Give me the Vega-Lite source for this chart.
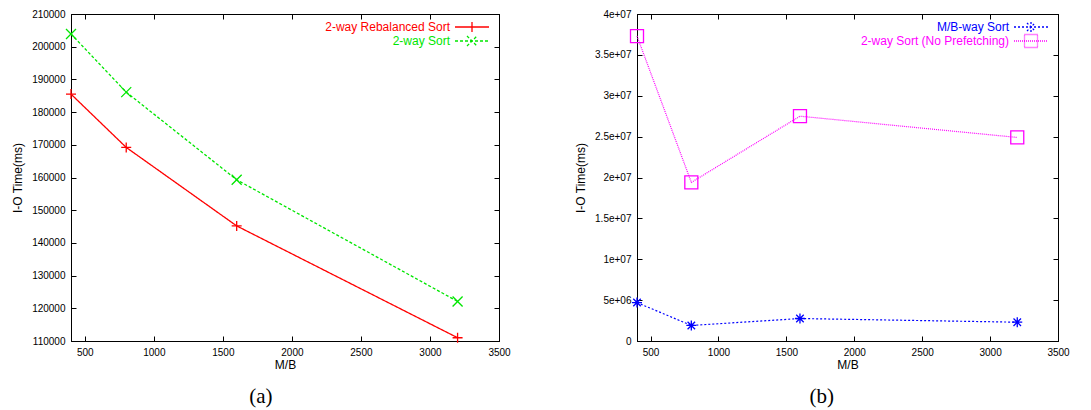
{
  "$schema": "https://vega.github.io/schema/vega-lite/v6.json",
  "background": "white",
  "padding": {"left": 11, "top": 8, "right": 5, "bottom": 0},
  "datasets": {
    "a": [
      {"mb": 400, "t": 185500, "series": "2-way Rebalanced Sort"},
      {"mb": 800, "t": 169200, "series": "2-way Rebalanced Sort"},
      {"mb": 1600, "t": 145200, "series": "2-way Rebalanced Sort"},
      {"mb": 3200, "t": 111000, "series": "2-way Rebalanced Sort"},
      {"mb": 400, "t": 203900, "series": "2-way Sort"},
      {"mb": 800, "t": 186100, "series": "2-way Sort"},
      {"mb": 1600, "t": 159300, "series": "2-way Sort"},
      {"mb": 3200, "t": 122100, "series": "2-way Sort"}
    ],
    "b": [
      {"mb": 400, "t": 4700000, "series": "M/B-way Sort"},
      {"mb": 800, "t": 1900000, "series": "M/B-way Sort"},
      {"mb": 1600, "t": 2750000, "series": "M/B-way Sort"},
      {"mb": 3200, "t": 2300000, "series": "M/B-way Sort"},
      {"mb": 400, "t": 37300000, "series": "2-way Sort (No Prefetching)"},
      {"mb": 800, "t": 19400000, "series": "2-way Sort (No Prefetching)"},
      {"mb": 1600, "t": 27500000, "series": "2-way Sort (No Prefetching)"},
      {"mb": 3200, "t": 24900000, "series": "2-way Sort (No Prefetching)"}
    ]
  },
  "config": {
    "font": "Liberation Sans",
    "view": {"stroke": "black", "strokeWidth": 1},
    "axis": {
      "grid": false,
      "domainColor": "black",
      "tickColor": "black",
      "labelColor": "black",
      "titleColor": "black",
      "labelFont": "Liberation Sans",
      "titleFont": "Liberation Sans",
      "labelFontSize": 10,
      "titleFontSize": 12,
      "titleFontWeight": "normal",
      "tickSize": -5,
      "labelPadding": 11,
      "labelFlush": false,
      "labelOverlap": false
    },
    "legend": {
      "labelFont": "Liberation Sans",
      "labelFontSize": 12,
      "labelLimit": 400
    },
    "title": {"font": "Liberation Serif", "fontSize": 21, "fontWeight": "normal", "color": "black"}
  },
  "bounds": "flush",
  "spacing": 138,
  "resolve": {
    "scale": {"color": "independent", "strokeDash": "independent"},
    "legend": {"color": "independent", "strokeDash": "independent"}
  },
  "hconcat": [
    {
      "width": 428,
      "height": 327,
      "title": {"text": "(a)", "orient": "bottom", "frame": "bounds", "anchor": "middle", "offset": 16},
      "data": {"name": "a"},
      "layer": [
        {
          "mark": {"type": "line", "strokeWidth": 1.3},
          "encoding": {
            "x": {"field": "mb", "type": "quantitative", "scale": {"domain": [400, 3500], "nice": false, "zero": false},
                  "axis": {"title": "M/B", "values": [500, 1000, 1500, 2000, 2500, 3000, 3500], "format": "d", "titlePadding": 2}},
            "y": {"field": "t", "type": "quantitative", "scale": {"domain": [110000, 210000], "nice": false, "zero": false},
                  "axis": {"title": "I-O Time(ms)", "values": [110000,120000,130000,140000,150000,160000,170000,180000,190000,200000,210000], "format": "d", "titlePadding": 7}},
            "color": {"field": "series", "type": "nominal",
                      "scale": {"domain": ["2-way Rebalanced Sort", "2-way Sort"], "range": ["#ff0000", "#00e600"]},
                      "legend": {"title": null, "orient": "top-right", "offset": 7, "padding": 0, "rowPadding": -8,
                                 "symbolSize": 100, "symbolStrokeWidth": 1.3, "symbolFillColor": "transparent",
                                 "labelAlign": "right", "labelOffset": -28,
                                 "encode": {
                                   "labels": {"update": {"fill": {"signal": "datum.value == '2-way Sort' ? '#00e600' : '#ff0000'"}}},
                                   "symbols": {"update": {
                                     "shape": {"signal": "datum.value == '2-way Sort' ? 'M-3.4,0H3.4M-1,-1L1,1M-1,1L1,-1' : 'M-3.4,0H3.4M0,-1V1'"},
                                     "strokeDash": {"signal": "datum.value == '2-way Sort' ? [3,2] : [1,0]"}
                                   }}
                                 }}},
            "strokeDash": {"field": "series", "type": "nominal",
                           "scale": {"domain": ["2-way Rebalanced Sort", "2-way Sort"], "range": [[1, 0], [3, 2]]},
                           "legend": null}
          }
        },
        {
          "transform": [{"filter": "datum.series == '2-way Rebalanced Sort'"}],
          "mark": {"type": "point", "filled": false, "strokeWidth": 1.3, "size": 100, "opacity": 1, "color": "#ff0000", "shape": "M-1,0H1M0,-1V1"},
          "encoding": {
            "x": {"field": "mb", "type": "quantitative", "axis": {"orient": "top", "labels": false, "title": null, "values": [500, 1000, 1500, 2000, 2500, 3000, 3500]}},
            "y": {"field": "t", "type": "quantitative", "axis": {"orient": "right", "labels": false, "title": null, "values": [110000,120000,130000,140000,150000,160000,170000,180000,190000,200000,210000]}}
          }
        },
        {
          "transform": [{"filter": "datum.series == '2-way Sort'"}],
          "mark": {"type": "point", "filled": false, "strokeWidth": 1.3, "size": 100, "opacity": 1, "color": "#00e600", "shape": "M-1,-1L1,1M-1,1L1,-1"},
          "encoding": {
            "x": {"field": "mb", "type": "quantitative", "axis": null},
            "y": {"field": "t", "type": "quantitative", "axis": null}
          }
        }
      ],
      "resolve": {"axis": {"x": "independent", "y": "independent"}}
    },
    {
      "width": 421,
      "height": 327,
      "title": {"text": "(b)", "orient": "bottom", "frame": "bounds", "anchor": "middle", "offset": 16},
      "data": {"name": "b"},
      "layer": [
        {
          "mark": {"type": "line", "strokeWidth": 1.2},
          "encoding": {
            "x": {"field": "mb", "type": "quantitative", "scale": {"domain": [400, 3500], "nice": false, "zero": false},
                  "axis": {"title": "M/B", "values": [500, 1000, 1500, 2000, 2500, 3000, 3500], "format": "d", "titlePadding": 2}},
            "y": {"field": "t", "type": "quantitative", "scale": {"domain": [0, 40000000], "nice": false},
                  "axis": {"title": "I-O Time(ms)", "values": [0,5000000,10000000,15000000,20000000,25000000,30000000,35000000,40000000],
                           "labelExpr": "datum.value == 0 ? '0' : replace(format(datum.value, '.2~e'), 'e+', 'e+0')", "titlePadding": 7}},
            "color": {"field": "series", "type": "nominal",
                      "scale": {"domain": ["M/B-way Sort", "2-way Sort (No Prefetching)"], "range": ["#0000ff", "#ff00ff"]},
                      "legend": {"title": null, "orient": "top-right", "offset": 7, "padding": 0, "rowPadding": -8,
                                 "symbolSize": 100, "symbolStrokeWidth": 1.3, "symbolFillColor": "transparent",
                                 "labelAlign": "right", "labelOffset": -28,
                                 "encode": {
                                   "labels": {"update": {"fill": {"signal": "datum.value == 'M/B-way Sort' ? '#0000ff' : '#ff00ff'"}}},
                                   "symbols": {"update": {
                                     "shape": {"signal": "datum.value == 'M/B-way Sort' ? 'M-3.4,0H3.4M0,-1V1M-0.8,-0.8L0.8,0.8M-0.8,0.8L0.8,-0.8' : 'M-3.4,0H3.4M-1.3,-1.3H1.3V1.3H-1.3Z'"},
                                     "strokeDash": {"signal": "datum.value == 'M/B-way Sort' ? [2,2] : [1,1]"}
                                   }}
                                 }}},
            "strokeDash": {"field": "series", "type": "nominal",
                           "scale": {"domain": ["M/B-way Sort", "2-way Sort (No Prefetching)"], "range": [[2, 2], [1, 1]]},
                           "legend": null}
          }
        },
        {
          "transform": [{"filter": "datum.series == 'M/B-way Sort'"}],
          "mark": {"type": "point", "filled": false, "strokeWidth": 1.3, "size": 100, "opacity": 1, "color": "#0000ff", "shape": "M-1,0H1M0,-1V1M-0.75,-0.75L0.75,0.75M-0.75,0.75L0.75,-0.75"},
          "encoding": {
            "x": {"field": "mb", "type": "quantitative", "axis": {"orient": "top", "labels": false, "title": null, "values": [500, 1000, 1500, 2000, 2500, 3000, 3500]}},
            "y": {"field": "t", "type": "quantitative", "axis": {"orient": "right", "labels": false, "title": null, "values": [0,5000000,10000000,15000000,20000000,25000000,30000000,35000000,40000000]}}
          }
        },
        {
          "transform": [{"filter": "datum.series == '2-way Sort (No Prefetching)'"}],
          "mark": {"type": "point", "filled": false, "strokeWidth": 1.3, "size": 169, "opacity": 1, "color": "#ff00ff", "shape": "square"},
          "encoding": {
            "x": {"field": "mb", "type": "quantitative", "axis": null},
            "y": {"field": "t", "type": "quantitative", "axis": null}
          }
        }
      ],
      "resolve": {"axis": {"x": "independent", "y": "independent"}}
    }
  ]
}
